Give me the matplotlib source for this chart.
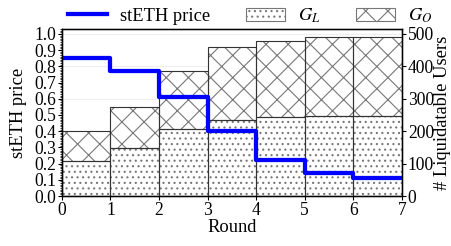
import numpy as np
import matplotlib
matplotlib.use("Agg")
import matplotlib.pyplot as plt
from matplotlib.lines import Line2D
from matplotlib.patches import Patch
from matplotlib.ticker import MultipleLocator

plt.rcParams['font.family'] = ['Liberation Serif', 'DejaVu Serif']
plt.rcParams['mathtext.fontset'] = 'stix'
plt.rcParams['hatch.linewidth'] = 0.6
plt.rcParams['hatch.color'] = '#777777'

# data
rounds = [0, 1, 2, 3, 4, 5, 6]
price = [0.85, 0.77, 0.61, 0.40, 0.22, 0.14, 0.11]
users_GL = [108, 147, 207, 233, 245, 246, 246]
users_GO = [92, 128, 178, 227, 233, 244, 244]

fig = plt.figure(figsize=(451/133, 246/133), dpi=133)
ax = fig.add_axes([0.137, 0.203, 0.754, 0.679])
ax2 = ax.twinx()

# bars on the right axis
ax2.bar(rounds, users_GL, width=1, align='edge', color='white',
        edgecolor='#777777', hatch='....', linewidth=0, zorder=2)
ax2.bar(rounds, users_GO, width=1, align='edge', bottom=users_GL, color='white',
        edgecolor='#777777', hatch='xx', linewidth=0, zorder=2)
ax2.bar(rounds, users_GL, width=1, align='edge', fill=False,
        edgecolor='#333333', linewidth=0.6, zorder=3)
ax2.bar(rounds, users_GO, width=1, align='edge', bottom=users_GL, fill=False,
        edgecolor='#333333', linewidth=0.6, zorder=3)
ax2.set_ylim(0, 1.05 * max(np.add(users_GL, users_GO)))
ax2.set_yticks([0, 100, 200, 300, 400, 500])
ax2.yaxis.grid(True, color='#eeeeee', linewidth=0.6, zorder=0)
ax2.set_axisbelow(True)
ax2.set_ylabel('# Liquidatable Users', fontsize=10)

# price line on the left axis, drawn over the bars
ax.set_zorder(ax2.get_zorder() + 1)
ax.patch.set_visible(False)
ax.step(rounds + [7], price + [price[-1]], where='post', color='#0000ff', linewidth=2.3)
ax.set_xlim(0, 7)
ax.set_ylim(0, 1.03)
ax.set_xticks(range(8))
ax.set_yticks(np.arange(0, 1.01, 0.1))
ax.yaxis.set_minor_locator(MultipleLocator(0.01))
ax.set_xlabel('Round', fontsize=10)
ax.set_ylabel('stETH price', fontsize=10)

for a in (ax, ax2):
    a.tick_params(labelsize=9.5, length=2.2, width=0.6, pad=1)
    a.tick_params(which='minor', length=1.3, width=0.4)
    for s in a.spines.values():
        s.set_linewidth(0.7)
ax.xaxis.labelpad = 0
ax.yaxis.labelpad = 4
ax2.yaxis.labelpad = 0

handles = [Line2D([], [], color='#0000ff', linewidth=2.3),
           Patch(facecolor='white', edgecolor='#777777', hatch='....', linewidth=0.6),
           Patch(facecolor='white', edgecolor='#777777', hatch='xx', linewidth=0.6)]
fig.legend(handles, ['stETH price', '$G_L$', '$G_O$'], ncol=3, loc='upper center',
           bbox_to_anchor=(0.555, 1.04), frameon=False, fontsize=10,
           handlelength=2.1, columnspacing=1.95, handletextpad=0.7)

fig.savefig('out.png', dpi=133)
